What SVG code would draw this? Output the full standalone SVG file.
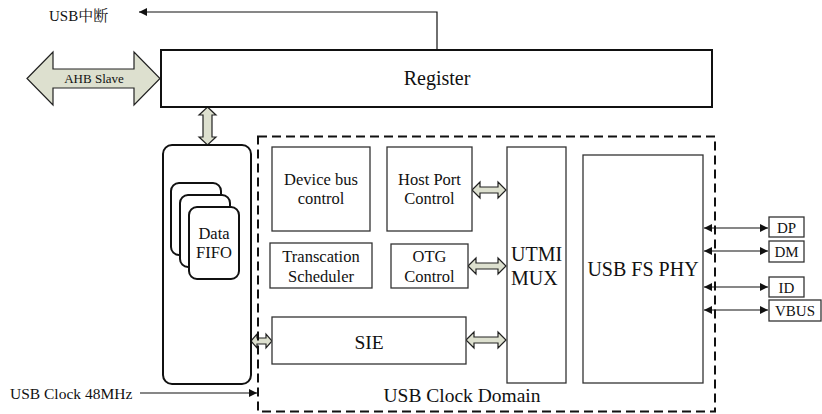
<svg xmlns="http://www.w3.org/2000/svg" width="822" height="414" viewBox="0 0 822 414">
<style>
text{font-family:'Liberation Serif','Times New Roman',Times,serif;fill:#111}
.cjk{font-family:'Liberation Serif','Noto Serif CJK SC','Noto Sans CJK SC',serif}
.box{fill:#fff;stroke:#333;stroke-width:1.3}
.thick{fill:#fff;stroke:#111;stroke-width:2}
.blk{fill:#dde0cf;stroke:#222;stroke-width:1.2;stroke-linejoin:miter}
.ln{fill:none;stroke:#111;stroke-width:1.2}
.c{text-anchor:middle}
</style>
<defs>
<marker id="ah" viewBox="0 0 10 10" refX="10" refY="5" markerWidth="9" markerHeight="8" markerUnits="userSpaceOnUse" orient="auto-start-reverse">
<path d="M0,0 L10,5 L0,10 Z" fill="#111"/>
</marker>
</defs>
<rect width="822" height="414" fill="#fff"/>

<g id="connectors">
<path class="ln" d="M437,50 V12 H139" marker-end="url(#ah)"/>
<path class="ln" d="M140,393 H257" marker-end="url(#ah)"/>
<path class="ln" d="M704,228 H768" marker-start="url(#ah)" marker-end="url(#ah)"/>
<path class="ln" d="M704,251 H768" marker-start="url(#ah)" marker-end="url(#ah)"/>
<path class="ln" d="M704,287 H768" marker-start="url(#ah)" marker-end="url(#ah)"/>
<path class="ln" d="M704,310 H768" marker-start="url(#ah)" marker-end="url(#ah)"/>
<path class="blk" d="M27,78.5 L53,52 L53,69 L134,69 L134,52 L160,78.5 L134,105 L134,88 L53,88 L53,105 Z"/>
<path class="blk" d="M207.5,107 L216,115 L212,115 L212,137 L216,137 L207.5,145 L199,137 L203,137 L203,115 L199,115 Z"/>
<path class="blk" d="M472,190 L480,182 L480,187 L498,187 L498,182 L506,190 L498,198 L498,193 L480,193 L480,198 Z"/>
<path class="blk" d="M468,266 L476,258 L476,263 L498,263 L498,258 L506,266 L498,274 L498,269 L476,269 L476,274 Z"/>
<path class="blk" d="M466,340 L474,332 L474,337 L498,337 L498,332 L506,340 L498,348 L498,343 L474,343 L474,348 Z"/>
<path class="blk" d="M251,341 L257,334 L257,338 L266,338 L266,334 L272,341 L266,348 L266,344 L257,344 L257,348 Z"/>
</g>

<text x="49" y="21" font-size="15" class="cjk">USB中断</text>
<text x="94" y="82.5" font-size="13" class="c">AHB Slave</text>
<text x="10" y="399" font-size="15.5">USB Clock 48MHz</text>

<g id="register">
<rect class="thick" x="161" y="50" width="551" height="57"/>
<text x="437" y="85" font-size="20" class="c">Register</text>
</g>

<g id="clock-domain">
<rect x="258" y="136.5" width="457" height="275" fill="none" stroke="#111" stroke-width="2" stroke-dasharray="9 5"/>
<text x="462" y="402" font-size="19.5" class="c">USB Clock Domain</text>
</g>

<g id="fifo">
<rect class="thick" x="163" y="145" width="88" height="239" rx="9"/>
<rect class="thick" x="171" y="183" width="50" height="72" rx="8"/>
<rect class="thick" x="180" y="195" width="50" height="72" rx="8"/>
<rect class="thick" x="189" y="207" width="50" height="72" rx="8"/>
<text x="214" y="239" font-size="16.5" class="c">Data</text>
<text x="214" y="258" font-size="16.5" class="c">FIFO</text>
</g>

<g id="device-bus">
<rect class="box" x="272" y="147" width="98" height="84"/>
<text x="321" y="185" font-size="16.5" class="c">Device bus</text>
<text x="321" y="204" font-size="16.5" class="c">control</text>
</g>

<g id="host-port">
<rect class="box" x="387" y="147" width="85" height="84"/>
<text x="429.5" y="185" font-size="16.5" class="c">Host Port</text>
<text x="429.5" y="204" font-size="16.5" class="c">Control</text>
</g>

<g id="scheduler">
<rect class="box" x="270" y="243" width="102" height="45"/>
<text x="321" y="262" font-size="16.5" class="c">Transcation</text>
<text x="321" y="282" font-size="16.5" class="c">Scheduler</text>
</g>

<g id="otg">
<rect class="box" x="391" y="244" width="77" height="44"/>
<text x="429.5" y="262" font-size="16.5" class="c">OTG</text>
<text x="429.5" y="282" font-size="16.5" class="c">Control</text>
</g>

<g id="sie">
<rect class="box" x="272" y="317" width="194" height="47"/>
<text x="369" y="349" font-size="19.5" class="c">SIE</text>
</g>

<g id="utmi">
<rect class="box" x="507" y="147" width="59" height="236"/>
<text x="511" y="261" font-size="20">UTMI</text>
<text x="511" y="285" font-size="20">MUX</text>
</g>

<g id="phy">
<rect class="box" x="583" y="155" width="120" height="228"/>
<text x="643" y="276" font-size="20" class="c">USB FS PHY</text>
</g>

<g id="dp">
<rect class="box" x="769" y="217" width="35" height="20"/>
<text x="786.5" y="233" font-size="15" class="c">DP</text>
</g>
<g id="dm">
<rect class="box" x="769" y="241" width="35" height="21"/>
<text x="786.5" y="257" font-size="15" class="c">DM</text>
</g>
<g id="id">
<rect class="box" x="769" y="277" width="35" height="20"/>
<text x="786.5" y="293" font-size="15" class="c">ID</text>
</g>
<g id="vbus">
<rect class="box" x="769" y="300" width="52" height="21"/>
<text x="795" y="316" font-size="15" class="c">VBUS</text>
</g>
</svg>
